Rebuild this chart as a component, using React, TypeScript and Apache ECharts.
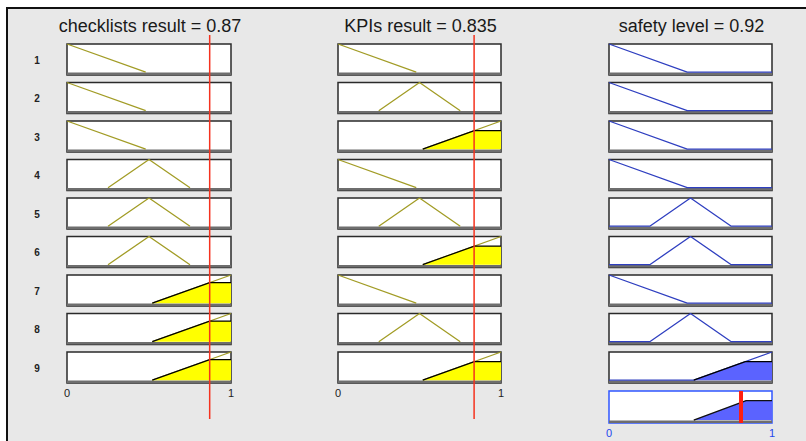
import React, { useEffect, useRef } from "react";
import * as echarts from "echarts";

// ---- data ----
const ruleNumbers = ["1", "2", "3", "4", "5", "6", "7", "8", "9"];
const inputTitles = ["checklists result = 0.87", "KPIs result = 0.835"];
const outputTitle = "safety level = 0.92";
const inputValues = [0.87, 0.835];
const outputValue = 0.81;

// membership functions (x, degree)
const mfLow = [[0, 1], [0.48, 0]];
const mfMid = [[0.25, 0], [0.5, 1], [0.75, 0]];
const mfHigh = [[0.52, 0], [1, 1]];

const checklistsTerms = ["low", "low", "low", "mid", "mid", "mid", "high", "high", "high"];
const kpisTerms = ["low", "mid", "high", "low", "mid", "high", "low", "mid", "high"];
const safetyTerms = ["low", "low", "low", "low", "mid", "mid", "low", "mid", "high"];

const checklistsLevels = [0, 0, 0, 0, 0, 0, 0.73, 0.73, 0.73];
const kpisLevels = [0, 0, 0.66, 0, 0, 0.66, 0, 0, 0.66];
const safetyLevels = [0, 0, 0, 0, 0, 0, 0, 0, 0.66];
const aggregateLevel = 0.67;

// ---- styling / layout ----
const COLS = [
  { left: 67, width: 164 },
  { left: 338, width: 163 },
  { left: 609, width: 163 },
];
const ROW_TOP0 = 44;
const ROW_STEP = 38.5;
const ROW_H = 31;
const Y_MIN = -0.1;
const FONT = "'Liberation Sans', Arial, Helvetica, sans-serif";
const OLIVE = "#a29c26";
const YELLOW = "#ffff00";
const BLUE_LINE = "#2f3fc0";
const BLUE_FILL = "#5b63ff";
const RED = "#f5321e";

const mfByName: Record<string, number[][]> = { low: mfLow, mid: mfMid, high: mfHigh };

function extendToRange(pts: number[][]): number[][] {
  const out = pts.map((p) => [p[0], p[1]]);
  if (out[0][0] > 0) out.unshift([0, 0]);
  if (out[out.length - 1][0] < 1) out.push([1, 0]);
  return out;
}

function clipAt(pts: number[][], level: number): number[][] {
  const out: number[][] = [];
  for (let i = 0; i < pts.length; i++) {
    const p = pts[i];
    if (i > 0) {
      const q = pts[i - 1];
      if ((q[1] - level) * (p[1] - level) < 0) {
        const t = (level - q[1]) / (p[1] - q[1]);
        out.push([q[0] + t * (p[0] - q[0]), level]);
      }
    }
    out.push([p[0], Math.min(p[1], level)]);
  }
  return out;
}

function buildOption() {
  const grids: any[] = [];
  const xAxes: any[] = [];
  const yAxes: any[] = [];
  const series: any[] = [];
  const graphics: any[] = [];

  const addGrid = (g: any, xa: any, ya: any) => {
    const idx = grids.length;
    grids.push(g);
    xAxes.push({ gridIndex: idx, type: "value", min: 0, max: 1, interval: 1, splitLine: { show: false }, axisTick: { show: false }, axisLine: { show: false }, ...xa });
    yAxes.push({ gridIndex: idx, type: "value", min: Y_MIN, max: 1, show: false, splitLine: { show: false }, ...ya });
    return idx;
  };

  const columns = [
    { terms: checklistsTerms, levels: checklistsLevels, out: false },
    { terms: kpisTerms, levels: kpisLevels, out: false },
    { terms: safetyTerms, levels: safetyLevels, out: true },
  ];

  columns.forEach((col, c) => {
    col.terms.forEach((term, r) => {
      const top = ROW_TOP0 + r * ROW_STEP;
      const showLabels = r === 8 && c < 2;
      const idx = addGrid(
        {
          left: COLS[c].left,
          width: COLS[c].width,
          top,
          height: ROW_H,
          show: true,
          backgroundColor: "#ffffff",
          borderColor: "#2a2a2a",
          borderWidth: 1.5,
        },
        {
          show: showLabels,
          axisLabel: { show: showLabels, fontSize: 11, color: "#222", margin: 4, fontFamily: FONT },
        },
        {}
      );
      series.push({
        type: "line",
        xAxisIndex: idx,
        yAxisIndex: idx,
        data: [[0, -0.055], [1, -0.055]],
        symbol: "none",
        silent: true,
        lineStyle: { color: "#6e6e6e", width: 2.5 },
        z: 1,
      });
      const mf = mfByName[term];
      const line = col.out ? extendToRange(mf) : mf;
      series.push({
        type: "line",
        xAxisIndex: idx,
        yAxisIndex: idx,
        data: line,
        symbol: "none",
        silent: true,
        lineStyle: { color: col.out ? BLUE_LINE : OLIVE, width: 1.3 },
        z: 2,
      });
      const lv = col.levels[r];
      if (lv > 0) {
        series.push({
          type: "line",
          xAxisIndex: idx,
          yAxisIndex: idx,
          data: clipAt(mf, lv),
          symbol: "none",
          silent: true,
          lineStyle: { color: "#000", width: 1.2 },
          areaStyle: { color: col.out ? BLUE_FILL : YELLOW, opacity: 1 },
          z: 3,
        });
      }
    });
  });

  // aggregate output panel
  const aggIdx = addGrid(
    {
      left: COLS[2].left,
      width: COLS[2].width,
      top: 391,
      height: 32,
      show: true,
      backgroundColor: "#ffffff",
      borderColor: "#2f55ff",
      borderWidth: 1.5,
    },
    {
      show: true,
      axisLabel: { show: true, fontSize: 11, color: "#2447ee", margin: 4, fontFamily: FONT },
    },
    {}
  );
  series.push({
    type: "line",
    xAxisIndex: aggIdx,
    yAxisIndex: aggIdx,
    data: [[0, -0.055], [1, -0.055]],
    symbol: "none",
    silent: true,
    lineStyle: { color: "#6e6e6e", width: 2.5 },
    z: 1,
  });
  series.push({
    type: "line",
    xAxisIndex: aggIdx,
    yAxisIndex: aggIdx,
    data: clipAt(mfHigh, aggregateLevel),
    symbol: "none",
    silent: true,
    lineStyle: { color: "#111", width: 1.4 },
    areaStyle: { color: BLUE_FILL, opacity: 1 },
    z: 3,
  });
  series.push({
    type: "line",
    xAxisIndex: aggIdx,
    yAxisIndex: aggIdx,
    data: [[outputValue, Y_MIN], [outputValue, 1]],
    symbol: "none",
    silent: true,
    lineStyle: { color: "#ff1f10", width: 4 },
    z: 5,
  });

  // red input lines over the two input columns
  inputValues.forEach((v, c) => {
    const idx = addGrid(
      { left: COLS[c].left, width: COLS[c].width, top: 35, height: 384, show: false },
      { show: false },
      { min: 0, max: 1 }
    );
    series.push({
      type: "line",
      xAxisIndex: idx,
      yAxisIndex: idx,
      data: [[v, 0], [v, 1]],
      symbol: "none",
      silent: true,
      lineStyle: { color: RED, width: 1.5 },
      z: 10,
    });
  });

  // titles
  const titles = [...inputTitles, outputTitle];
  titles.forEach((t, c) => {
    graphics.push({
      type: "text",
      x: COLS[c].left + COLS[c].width / 2 + 1,
      y: 26,
      style: { text: t, font: `18px ${FONT}`, fill: "#1a1a1a", textAlign: "center", textVerticalAlign: "middle" },
    });
  });
  // rule numbers
  ruleNumbers.forEach((n, r) => {
    graphics.push({
      type: "text",
      x: 37,
      y: ROW_TOP0 + r * ROW_STEP + 16,
      style: { text: n, font: `bold 10px ${FONT}`, fill: "#222", textAlign: "center", textVerticalAlign: "middle" },
    });
  });

  return {
    animation: false,
    grid: grids,
    xAxis: xAxes,
    yAxis: yAxes,
    series,
    graphic: graphics,
  };
}

export default function App() {
  const ref = useRef<HTMLDivElement>(null);
  useEffect(() => {
    if (!ref.current) return;
    const chart = echarts.init(ref.current, undefined, { renderer: "svg" });
    chart.setOption(buildOption() as any);
    return () => chart.dispose();
  }, []);
  return (
    <div style={{ position: "fixed", left: 0, top: 0, width: 806, height: 441, background: "#ffffff", overflow: "hidden" }}>
      <div
        style={{
          position: "absolute",
          left: 6,
          top: 7,
          width: 820,
          height: 450,
          background: "#e8e8e8",
          borderLeft: "2px solid #111",
          borderTop: "2px solid #111",
        }}
      />
      <div ref={ref} style={{ position: "absolute", left: 0, top: 0, width: 806, height: 441 }} />
    </div>
  );
}
